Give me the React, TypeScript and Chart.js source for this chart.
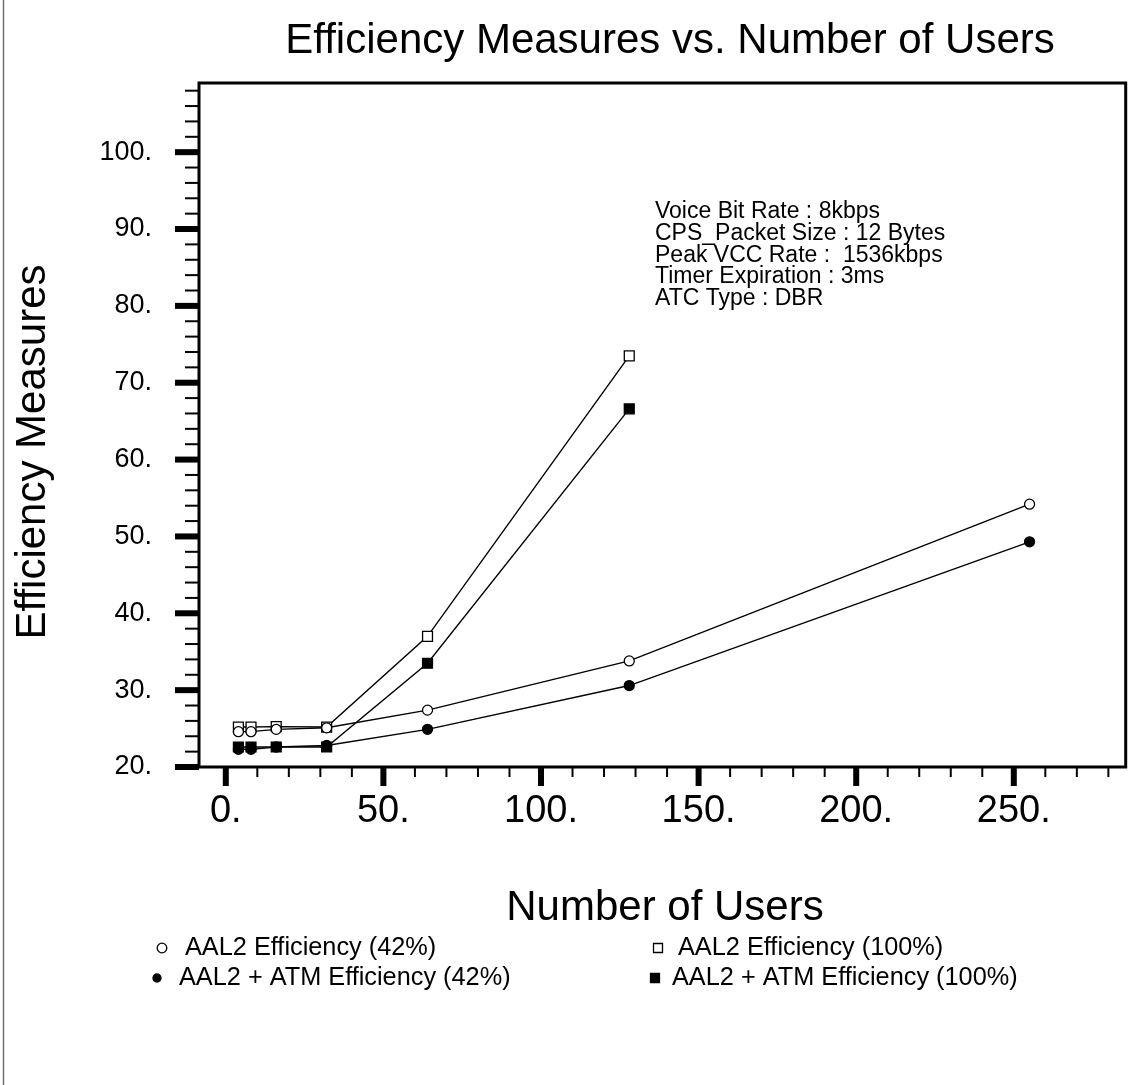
import React, { useEffect, useRef } from 'react';
import { Chart, registerables } from 'chart.js';

Chart.register(...registerables);

// ---- Data ----
const usersAll = [4, 8, 16, 32, 64, 128, 255];
const users100 = [4, 8, 16, 32, 64, 128];
const aal2Eff42 = [24.6, 24.6, 24.9, 25.1, 27.4, 33.8, 54.2];
const aal2AtmEff42 = [22.3, 22.3, 22.6, 22.8, 24.9, 30.6, 49.3];
const aal2Eff100 = [25.2, 25.2, 25.25, 25.2, 37.0, 73.5];
const aal2AtmEff100 = [22.6, 22.6, 22.6, 22.6, 33.5, 66.6];

const seriesLabels = [
  'AAL2 Efficiency (42%)',
  'AAL2 + ATM Efficiency (42%)',
  'AAL2 Efficiency (100%)',
  'AAL2 + ATM Efficiency (100%)',
];

const xMajorTicks = [0, 50, 100, 150, 200, 250];
const xTickLabels = ['0.', '50.', '100.', '150.', '200.', '250.'];
const yMajorTicks = [20, 30, 40, 50, 60, 70, 80, 90, 100];
const yTickLabels = ['20.', '30.', '40.', '50.', '60.', '70.', '80.', '90.', '100.'];
const xMinorStep = 10;
const yMinorStep = 2;
const xRange = [-8.5, 285.5];
const yRange = [20, 109];

const titleText = 'Efficiency Measures vs. Number of Users';
const xTitleText = 'Number of Users';
const yTitleText = 'Efficiency Measures';
const annotationLines = [
  'Voice Bit Rate : 8kbps',
  'CPS_Packet Size : 12 Bytes',
  'Peak VCC Rate :  1536kbps',
  'Timer Expiration : 3ms',
  'ATC Type : DBR',
];

const FONT = '"Liberation Sans", Arial, Helvetica, sans-serif';

function toPoints(xs: number[], ys: number[]) {
  return xs.map((x, i) => ({ x, y: ys[i] }));
}

function drawMarker(ctx: CanvasRenderingContext2D, kind: string, filled: boolean, x: number, y: number, size: number) {
  ctx.save();
  ctx.lineWidth = 1.3;
  ctx.strokeStyle = '#000';
  ctx.fillStyle = filled ? '#000' : '#fff';
  ctx.beginPath();
  if (kind === 'circle') {
    ctx.arc(x, y, size, 0, Math.PI * 2);
  } else {
    ctx.rect(x - size, y - size, size * 2, size * 2);
  }
  ctx.fill();
  ctx.stroke();
  ctx.restore();
}

const decorPlugin = {
  id: 'decor',
  afterDraw(chart: any) {
    const ctx: CanvasRenderingContext2D = chart.ctx;
    const { left, top, right, bottom } = chart.chartArea;
    const xs = chart.scales.x;
    const ys = chart.scales.y;
    ctx.save();

    // page left border line
    ctx.strokeStyle = '#707070';
    ctx.lineWidth = 1.5;
    ctx.beginPath();
    ctx.moveTo(3.5, 0);
    ctx.lineTo(3.5, chart.height);
    ctx.stroke();

    // frame
    ctx.strokeStyle = '#000';
    ctx.lineWidth = 3;
    ctx.strokeRect(left, top, right - left, bottom - top);

    // x tick marks
    xs.ticks.forEach((t: any) => {
      const px = xs.getPixelForValue(t.value);
      const major = xMajorTicks.includes(t.value);
      ctx.lineWidth = major ? 6 : 2;
      ctx.beginPath();
      ctx.moveTo(px, bottom);
      ctx.lineTo(px, bottom + (major ? 19 : 10));
      ctx.stroke();
    });
    // y tick marks
    ys.ticks.forEach((t: any) => {
      const py = ys.getPixelForValue(t.value);
      const major = yMajorTicks.includes(t.value);
      ctx.lineWidth = major ? 6 : 2;
      ctx.beginPath();
      ctx.moveTo(left, py);
      ctx.lineTo(left - (major ? 24 : 14), py);
      ctx.stroke();
    });

    ctx.fillStyle = '#000';
    // title
    ctx.font = `42px ${FONT}`;
    ctx.textAlign = 'center';
    ctx.textBaseline = 'alphabetic';
    ctx.fillText(titleText, 670, 53);
    // x title
    ctx.fillText(xTitleText, 665, 920);
    // y title
    ctx.save();
    ctx.translate(45, 452);
    ctx.rotate(-Math.PI / 2);
    ctx.fillText(yTitleText, 0, 0);
    ctx.restore();

    // annotation
    ctx.font = `23px ${FONT}`;
    ctx.textAlign = 'left';
    annotationLines.forEach((line, i) => {
      ctx.fillText(line, 655, 218 + i * 21.8);
    });

    // legend
    const ds = chart.data.datasets;
    const legendPos = [
      { mx: 162, tx: 185, y: 948 },
      { mx: 157, tx: 179, y: 978 },
      { mx: 658, tx: 678, y: 948 },
      { mx: 655, tx: 672, y: 978 },
    ];
    ctx.font = `25.3px ${FONT}`;
    ctx.textBaseline = 'middle';
    ds.forEach((d: any, i: number) => {
      const p = legendPos[i];
      const kind = d.pointStyle === 'rect' ? 'rect' : 'circle';
      const filled = d.pointBackgroundColor === '#000';
      drawMarker(ctx, kind, filled, p.mx, p.y, kind === 'rect' ? 4.5 : (filled ? 4 : 4.8));
      ctx.fillStyle = '#000';
      ctx.fillText(d.label, p.tx, p.y);
    });

    ctx.restore();
  },
};

export default function App() {
  const canvasRef = useRef<HTMLCanvasElement | null>(null);

  useEffect(() => {
    document.body.style.margin = '0';
    const canvas = canvasRef.current;
    if (!canvas) return;

    const common = {
      borderColor: '#000',
      borderWidth: 1.4,
      pointBorderColor: '#000',
      pointBorderWidth: 1.3,
      tension: 0,
      fill: false,
    };

    const chart = new Chart(canvas, {
      type: 'line',
      data: {
        datasets: [
          {
            ...common,
            label: seriesLabels[0],
            data: toPoints(usersAll, aal2Eff42),
            pointStyle: 'circle',
            pointRadius: 5,
            pointBackgroundColor: '#fff',
          },
          {
            ...common,
            label: seriesLabels[1],
            data: toPoints(usersAll, aal2AtmEff42),
            pointStyle: 'circle',
            pointRadius: 5,
            pointBackgroundColor: '#000',
          },
          {
            ...common,
            label: seriesLabels[2],
            data: toPoints(users100, aal2Eff100),
            pointStyle: 'rect',
            pointRadius: 7,
            pointBackgroundColor: '#fff',
          },
          {
            ...common,
            label: seriesLabels[3],
            data: toPoints(users100, aal2AtmEff100),
            pointStyle: 'rect',
            pointRadius: 7,
            pointBackgroundColor: '#000',
          },
        ] as any,
      },
      options: {
        animation: false,
        responsive: false,
        maintainAspectRatio: false,
        layout: { padding: { top: 83, right: 7, left: 0, bottom: 0 } },
        plugins: {
          legend: { display: false },
          title: { display: false },
          tooltip: { enabled: false },
        },
        scales: {
          x: {
            type: 'linear',
            min: xRange[0],
            max: xRange[1],
            afterBuildTicks: (scale: any) => {
              const ticks = [];
              for (let v = 0; v <= xRange[1]; v += xMinorStep) ticks.push({ value: v });
              scale.ticks = ticks;
            },
            afterFit: (scale: any) => {
              scale.height = 318;
            },
            grid: {
              display: true,
              drawOnChartArea: false,
              drawTicks: true,
              tickLength: 19,
              color: 'rgba(0,0,0,0)',
              tickColor: 'rgba(0,0,0,0)',
            },
            border: { display: false },
            ticks: {
              autoSkip: false,
              maxRotation: 0,
              padding: 3,
              color: '#000',
              font: { family: FONT, size: 38 },
              callback: (v: any) => {
                const i = xMajorTicks.indexOf(Number(v));
                return i >= 0 ? xTickLabels[i] : '';
              },
            },
          },
          y: {
            type: 'linear',
            min: yRange[0],
            max: yRange[1],
            afterBuildTicks: (scale: any) => {
              const ticks = [];
              for (let v = yRange[0]; v <= yRange[1]; v += yMinorStep) ticks.push({ value: v });
              scale.ticks = ticks;
            },
            afterFit: (scale: any) => {
              scale.width = 199;
            },
            grid: {
              display: true,
              drawOnChartArea: false,
              drawTicks: true,
              tickLength: 24,
              color: 'rgba(0,0,0,0)',
              tickColor: 'rgba(0,0,0,0)',
            },
            border: { display: false },
            ticks: {
              autoSkip: false,
              padding: 23,
              color: '#000',
              font: { family: FONT, size: 27 },
              callback: (v: any) => {
                const i = yMajorTicks.indexOf(Number(v));
                return i >= 0 ? yTickLabels[i] : '';
              },
            },
          },
        },
      },
      plugins: [decorPlugin],
    });

    return () => chart.destroy();
  }, []);

  return (
    <div style={{ width: 1134, height: 1085, background: '#fff' }}>
      <canvas ref={canvasRef} width={1134} height={1085} style={{ display: 'block' }} />
    </div>
  );
}
